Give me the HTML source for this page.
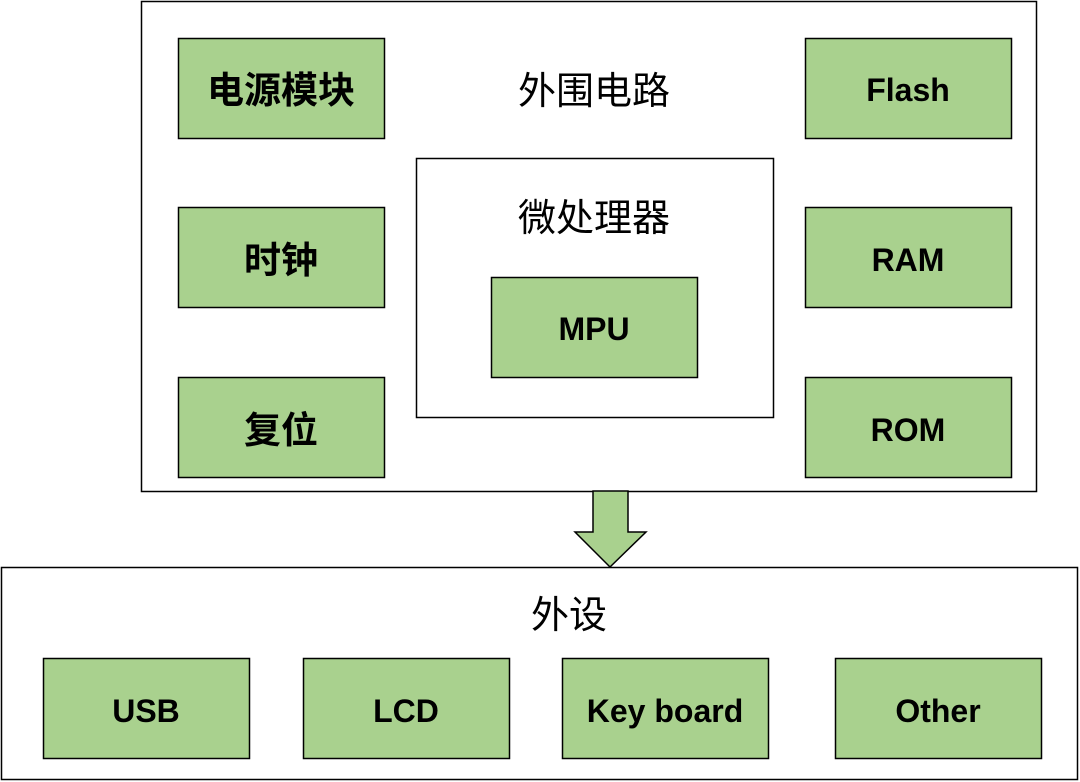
<!DOCTYPE html>
<html><head><meta charset="utf-8"><style>body{margin:0;background:#fff}svg{display:block}</style></head><body>
<svg width="1080" height="782" xmlns="http://www.w3.org/2000/svg" font-family="'Liberation Sans','Noto Sans CJK SC',sans-serif">
<g fill="none" stroke="#000" stroke-width="1.5">
<rect x="141.5" y="1.5" width="895" height="490"/>
<rect x="416.5" y="158.5" width="357" height="259"/>
<rect x="1.5" y="567.5" width="1076" height="212"/>
</g>
<g fill="#a9d18e" stroke="#000" stroke-width="1.5">
<rect x="178.5" y="38.5" width="206" height="100"/>
<rect x="178.5" y="207.5" width="206" height="100"/>
<rect x="178.5" y="377.5" width="206" height="100"/>
<rect x="805.5" y="38.5" width="206" height="100"/>
<rect x="805.5" y="207.5" width="206" height="100"/>
<rect x="805.5" y="377.5" width="206" height="100"/>
<rect x="491.5" y="277.5" width="206" height="100"/>
<rect x="43.5" y="658.5" width="206" height="100"/>
<rect x="303.5" y="658.5" width="206" height="100"/>
<rect x="562.5" y="658.5" width="206" height="100"/>
<rect x="835.5" y="658.5" width="206" height="100"/>
<polygon points="593,491 628,491 628,532 646,532 610,567 575,532 593,532"/>
</g>
<g font-weight="bold" font-size="37" text-anchor="middle" fill="#000">
<text x="281" y="103">电源模块</text>
<text x="281" y="273">时钟</text>
<text x="281" y="443">复位</text>
</g>
<g font-weight="bold" font-size="32" text-anchor="middle" fill="#000">
<text x="908" y="101">Flash</text>
<text x="908" y="271">RAM</text>
<text x="908" y="441">ROM</text>
<text x="594" y="340">MPU</text>
<text x="146" y="722">USB</text>
<text x="406" y="722">LCD</text>
<text x="665" y="722">Key board</text>
<text x="938" y="722">Other</text>
</g>
<g font-size="38" text-anchor="middle" fill="#000">
<text x="594" y="104">外围电路</text>
<text x="594" y="231">微处理器</text>
<text x="569" y="628">外设</text>
</g>
</svg>
</body></html>
